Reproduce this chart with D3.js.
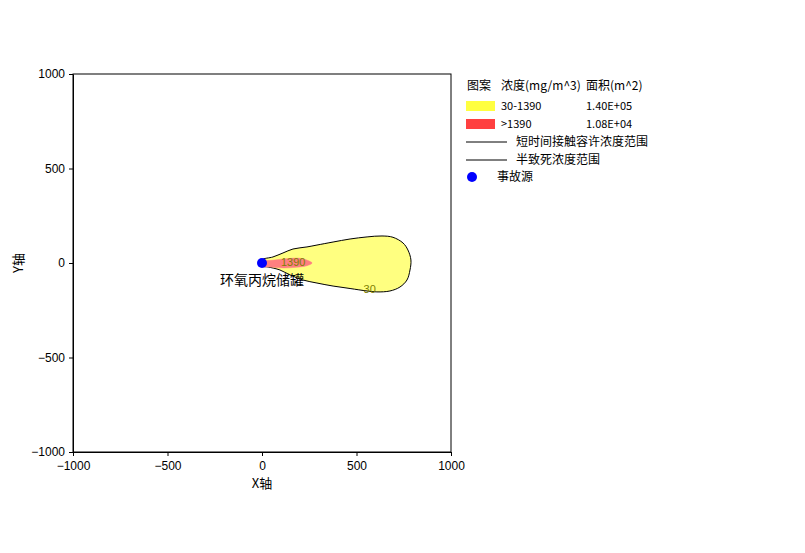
<!DOCTYPE html>
<html>
<head>
<meta charset="utf-8">
<script src="https://cdn.jsdelivr.net/npm/d3@7"></script>
<style>
  body { margin: 0; background: #fff; }
  svg text { font-family: "Noto Sans CJK SC", "DejaVu Sans", sans-serif; }
</style>
</head>
<body>
<div id="chart"></div>
<script>
// axis ticks
const xTicks = [-1000, -500, 0, 500, 1000];
const yTicks = [-1000, -500, 0, 500, 1000];

// 30 mg/m^3 contour (short-term exposure limit), metres
const outerContour = [
  [0, 16], [58, 32], [111, 53], [164, 74], [238, 85], [291, 95], [376, 111],
  [466, 127], [556, 138], [635, 143], [693, 136], [746, 106], [772, 69],
  [788, 16], [783, -37], [767, -90], [730, -127], [677, -148], [608, -153],
  [556, -148], [466, -135], [376, -122], [291, -106], [217, -90], [148, -63],
  [95, -37], [32, -21], [0, -16]
];

// 1390 mg/m^3 contour (LC50)
const innerContour = [
  [0, 16], [32, 13], [111, 21], [201, 25], [243, 13], [265, 0],
  [238, -14], [164, -24], [111, -26], [42, -21], [0, -16]
];

const contourLabels = [
  { text: "30", x: 570, y: -138 },
  { text: "1390", x: 165, y: 3 }
];

const source = { name: "环氧丙烷储罐", x: 0, y: 0 };

const legendHeader = ["图案", "浓度(mg/m^3)", "面积(m^2)"];
const legendRanges = ["30-1390", ">1390"];
const legendAreas = ["1.40E+05", "1.08E+04"];
const legendColors = ["#ffff40", "#ff4040"];
const legendLines = ["短时间接触容许浓度范围", "半致死浓度范围"];
const legendSource = "事故源";

const width = 805, height = 553;
const margin = { left: 73, top: 74, right: 354, bottom: 101 };

const svg = d3.select("#chart").append("svg")
  .attr("width", width)
  .attr("height", height);

const x = d3.scaleLinear().domain([-1000, 1000]).range([margin.left, width - margin.right]);
const y = d3.scaleLinear().domain([-1000, 1000]).range([height - margin.bottom, margin.top]);

const line = d3.line()
  .x(d => x(d[0]))
  .y(d => y(d[1]))
  .curve(d3.curveCatmullRomClosed.alpha(0.5));

svg.append("path")
  .attr("d", line(outerContour))
  .attr("fill", "#ffff80")
  .attr("stroke", "#000")
  .attr("stroke-width", 1);

svg.append("path")
  .attr("d", line(innerContour))
  .attr("fill", "#ff8080")
  .attr("stroke", "#ff8080")
  .attr("stroke-width", 0.5);

svg.selectAll(".clabel")
  .data(contourLabels)
  .enter()
  .append("text")
  .attr("class", "clabel")
  .attr("x", d => x(d.x))
  .attr("y", d => y(d.y))
  .attr("text-anchor", "middle")
  .attr("dy", "0.35em")
  .style("font-family", "'Liberation Sans', sans-serif")
  .style("font-size", "11px")
  .style("fill", "#808000")
  .text(d => d.text);

// frame
svg.append("rect")
  .attr("x", x(-1000))
  .attr("y", y(1000))
  .attr("width", x(1000) - x(-1000))
  .attr("height", y(-1000) - y(1000))
  .attr("fill", "none")
  .attr("stroke", "#000");

const fmt = d3.format("d");

const xAxis = svg.append("g")
  .attr("transform", `translate(0,${y(-1000)})`)
  .call(d3.axisBottom(x).tickValues(xTicks).tickFormat(fmt).tickSize(4).tickSizeOuter(0));

const yAxis = svg.append("g")
  .attr("transform", `translate(${x(-1000)},0)`)
  .call(d3.axisLeft(y).tickValues(yTicks).tickFormat(fmt).tickSize(4).tickSizeOuter(0));

[xAxis, yAxis].forEach(g => {
  g.select(".domain").attr("stroke", "#000");
  g.selectAll("text")
    .style("font-family", "'Liberation Sans', sans-serif")
    .style("font-size", "12px")
    .attr("fill", "#000");
});
xAxis.selectAll("text").attr("dy", "0.9em");
yAxis.selectAll("text").attr("dx", "-1px");

svg.append("text")
  .attr("x", x(0))
  .attr("y", 488)
  .attr("text-anchor", "middle")
  .style("font-size", "13px")
  .text("X轴");

svg.append("text")
  .attr("transform", `translate(23,${y(0)}) rotate(-90)`)
  .attr("text-anchor", "middle")
  .style("font-size", "13px")
  .text("Y轴");

// source
svg.append("circle")
  .attr("cx", x(source.x))
  .attr("cy", y(source.y))
  .attr("r", 5)
  .attr("fill", "#0000ff");

svg.append("text")
  .attr("x", x(source.x))
  .attr("y", y(source.y) + 22)
  .attr("text-anchor", "middle")
  .style("font-size", "14px")
  .text(source.name);

// legend
const legend = svg.append("g").style("font-size", "12px");
const colX = [467, 501, 586];

legend.selectAll(".lh")
  .data(legendHeader)
  .enter()
  .append("text")
  .attr("x", (d, i) => colX[i])
  .attr("y", 90)
  .text(d => d);

legendRanges.forEach((r, i) => {
  const ry = 101 + i * 18;
  legend.append("rect")
    .attr("x", 466).attr("y", ry)
    .attr("width", 29).attr("height", 10)
    .attr("fill", legendColors[i]);
  legend.append("text")
    .attr("x", colX[1]).attr("y", ry + 9)
    .style("font-size", "11px")
    .text(r);
  legend.append("text")
    .attr("x", colX[2]).attr("y", ry + 9)
    .style("font-size", "11px")
    .text(legendAreas[i]);
});

legendLines.forEach((t, i) => {
  const ly = 142 + i * 18;
  legend.append("line")
    .attr("x1", 466).attr("x2", 507)
    .attr("y1", ly).attr("y2", ly)
    .attr("stroke", "#000");
  legend.append("text")
    .attr("x", 516).attr("y", ly + 4)
    .text(t);
});

legend.append("circle")
  .attr("cx", 472).attr("cy", 177)
  .attr("r", 5)
  .attr("fill", "#0000ff");
legend.append("text")
  .attr("x", 497).attr("y", 181)
  .text(legendSource);
</script>
</body>
</html>
